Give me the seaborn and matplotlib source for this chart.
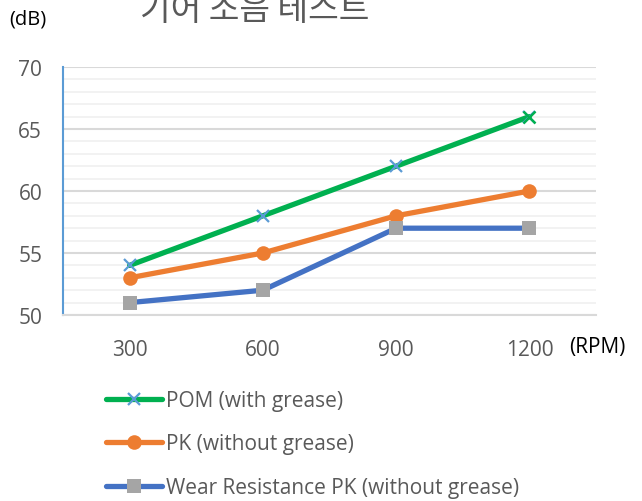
import matplotlib
matplotlib.use("Agg")
import matplotlib.pyplot as plt
import seaborn as sns
import pandas as pd
import numpy as np

rpm = ["300", "600", "900", "1200"]
pom = [54, 58, 62, 66]
pk = [53, 55, 58, 60]
wr_pk = [51, 52, 57, 57]
series_names = ["POM (with grease)", "PK (without grease)", "Wear Resistance PK (without grease)"]
title = "기어 소음 테스트"

sns.set_theme(style="white")
plt.rcParams['font.family'] = ['Open Sans', 'Noto Sans CJK KR', 'DejaVu Sans']

fig = plt.figure(figsize=(6.42, 5.02), dpi=100)
ax = fig.add_axes([63/642, 1-316/502, (596-63)/642, (316-68)/502])

pos = np.arange(len(rpm))
df = pd.DataFrame({"pos": pos, "pom": pom, "pk": pk, "wr": wr_pk})

sns.lineplot(data=df, x="pos", y="pom", ax=ax, color="#00B050", lw=3.8,
             marker="x", markersize=9, markeredgewidth=1.6,
             markeredgecolor="#5B9BD5", label=series_names[0], zorder=3)
# last POM marker appears green in the reference
sns.lineplot(data=df.iloc[[-1]], x="pos", y="pom", ax=ax, color="#00B050", lw=0,
             marker="x", markersize=9, markeredgewidth=1.8,
             markeredgecolor="#00B050", zorder=3.5, legend=False)
sns.lineplot(data=df, x="pos", y="pk", ax=ax, color="#ED7D31", lw=3.8,
             marker="o", markersize=10.5, markeredgewidth=0,
             markerfacecolor="#ED7D31", label=series_names[1], zorder=4)
sns.lineplot(data=df, x="pos", y="wr", ax=ax, color="#4472C4", lw=3.8,
             marker="s", markersize=10.5, markeredgewidth=0,
             markerfacecolor="#A5A5A5", label=series_names[2], zorder=5)

ax.set_xlim(-0.5, 3.5)
ax.set_ylim(50, 70)
ax.set_yticks([50, 55, 60, 65, 70])
ax.set_yticks(np.arange(50, 71, 1), minor=True)
ax.grid(which="major", axis="y", color="#D9D9D9", lw=1.5, zorder=0)
ax.grid(which="minor", axis="y", color="#F0F0F0", lw=1.2, zorder=0)
ax.set_axisbelow(True)
ax.set_xticks(pos)
ax.set_xticklabels(rpm)
ax.tick_params(axis="both", which="both", length=0, labelsize=15, colors="#595959")
ax.tick_params(axis="x", pad=17)
ax.tick_params(axis="y", pad=15)
for s in ["top", "right"]:
    ax.spines[s].set_visible(False)
ax.spines["bottom"].set_color("#D9D9D9")
ax.spines["bottom"].set_linewidth(1.5)
ax.spines["left"].set_color("#5B9BD5")
ax.spines["left"].set_linewidth(1.5)
ax.set_xlabel("")
ax.set_ylabel("")

fig.text(9/642, 1-20/502, "(dB)", fontsize=14.5, color="black", va="center", ha="left")
fig.text(626/642, 1-348/502, "(RPM)", fontsize=15, color="black", va="center", ha="right")
fig.text(255/642, 1-20/502, title, fontsize=24, color="#595959", ha="center", va="baseline",
         family=['Noto Sans CJK KR', 'DejaVu Sans'])

handles, labels = ax.get_legend_handles_labels()
ax.get_legend().remove()
leg = fig.legend(handles, labels, loc="upper left", bbox_to_anchor=(106/642, 1-391/502),
                 frameon=False, fontsize=15, handlelength=2.7, handletextpad=0.2,
                 labelspacing=1.08, borderpad=0, borderaxespad=0)
for t in leg.get_texts():
    t.set_color("#595959")

fig.savefig("out.png", dpi=100)
